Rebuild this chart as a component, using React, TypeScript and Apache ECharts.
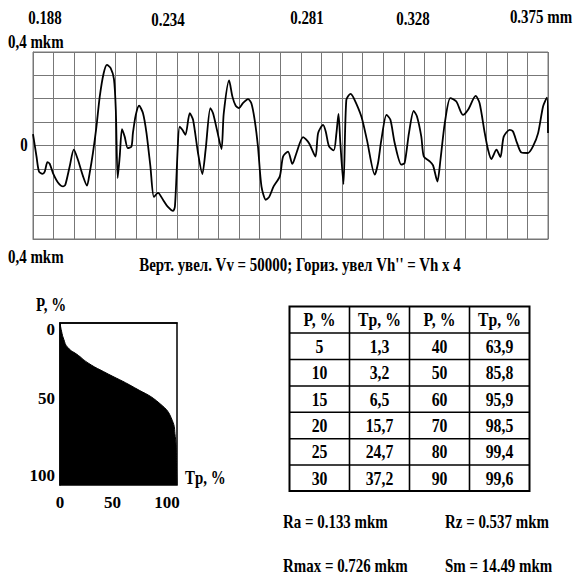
import React, { useEffect, useRef } from "react";
import * as echarts from "echarts";

// ---- Profile (surface roughness trace) ----
const profileDist = [
  0, 0.17, 0.29, 0.46, 0.57, 0.70, 0.81, 0.97, 1.21, 1.46,
  1.57, 1.78, 1.98, 2.18, 2.43, 2.62, 2.75, 2.91, 3.08, 3.24,
  3.43, 3.59, 3.77, 3.93, 4.02, 4.11, 4.21, 4.32, 4.45, 4.60,
  4.78, 4.85, 4.99, 5.15, 5.34, 5.51, 5.70, 5.87, 6.07, 6.31,
  6.55, 6.80, 6.89, 7.12, 7.25, 7.40, 7.61, 7.77, 8.01, 8.22,
  8.38, 8.61, 8.74, 8.93, 9.15, 9.26, 9.52, 9.68, 9.84, 10.00,
  10.19, 10.44, 10.60, 10.76, 10.92, 11.09, 11.30, 11.46, 11.68, 11.98,
  12.14, 12.38, 12.59, 12.79, 13.11, 13.40, 13.71, 13.84, 14.08, 14.21,
  14.37, 14.60, 14.73, 14.83, 14.92, 15.07, 15.21, 15.41, 15.57, 15.94,
  16.21, 16.59, 16.75, 16.91, 17.16, 17.35, 17.56, 17.88, 18.04, 18.25,
  18.48, 18.64, 18.85, 18.97, 19.26, 19.42, 19.63, 19.78, 19.99, 20.26,
  20.55, 20.87, 21.12, 21.49, 21.68, 21.93, 22.09, 22.25, 22.50, 22.69,
  22.85, 23.14, 23.30, 23.50, 23.71, 24.03, 24.27, 24.52, 24.76, 24.95,
  25.00,
];
const profileHeight = [
  0.049, -0.047, -0.111, -0.121, -0.112, -0.071, -0.078, -0.118, -0.158, -0.175,
  -0.168, -0.090, -0.018, -0.061, -0.132, -0.172, -0.118, -0.032, 0.081, 0.209,
  0.309, 0.345, 0.331, 0.284, 0.153, -0.139, -0.047, 0.070, 0.038, -0.011,
  -0.004, 0.053, 0.131, 0.170, 0.138, 0.053, -0.090, -0.220, -0.203, -0.232,
  -0.263, -0.280, -0.260, 0.081, 0.067, 0.046, 0.138, 0.110, -0.032, -0.122,
  -0.018, 0.160, 0.138, 0.067, -0.015, 0.138, 0.278, 0.209, 0.170, 0.160,
  0.181, 0.198, 0.181, 0.110, -0.004, -0.175, -0.232, -0.221, -0.175, -0.132,
  -0.047, -0.026, -0.079, -0.032, 0.036, 0.010, -0.047, 0.053, 0.088, 0.060,
  -0.004, -0.021, 0.053, 0.135, 0.010, -0.165, 0.195, 0.221, 0.203, 0.124,
  0.024, -0.125, -0.075, 0.024, 0.131, 0.110, 0.010, -0.082, -0.075, 0.053,
  0.148, 0.124, 0.038, -0.047, -0.068, -0.085, -0.154, -0.061, 0.096, 0.203,
  0.188, 0.131, 0.153, 0.212, 0.181, 0.053, -0.018, -0.058, -0.018, -0.050,
  0.038, 0.067, 0.060, 0.010, -0.030, -0.032, -0.004, 0.053, 0.167, 0.205,
  0.053,
];
const distTickLabels = ["0.188", "0.234", "0.281", "0.328", "0.375 mm"];

// ---- Bearing ratio table ----
const levelLow = [5, 10, 15, 20, 25, 30];
const bearingLow = [1.3, 3.2, 6.5, 15.7, 24.7, 37.2];
const levelHigh = [40, 50, 60, 70, 80, 90];
const bearingHigh = [63.9, 85.8, 95.9, 98.5, 99.4, 99.6];
const curveStart = [0, 0];
const curveEnd = [100, 100];

// ---- Parameters ----
const params = [
  "Ra = 0.133 mkm",
  "Rz = 0.537 mkm",
  "Rmax = 0.726 mkm",
  "Sm = 14.49 mkm",
];

const FONT_FAMILY = '"Liberation Serif", "Times New Roman", serif';
const SX = 0.83;

function txt(text: string, x: number, y: number, align = "center", size = 18) {
  return {
    type: "text",
    x,
    y,
    scaleX: SX,
    silent: true,
    style: {
      text,
      fill: "#000",
      font: `bold ${size}px ${FONT_FAMILY}`,
      textAlign: align,
      textVerticalAlign: "middle",
    },
  };
}

export default function App() {
  const ref = useRef<HTMLDivElement>(null);

  useEffect(() => {
    if (!ref.current) return;
    const chart = echarts.init(ref.current, null, { renderer: "svg" });

    const profileData = profileDist.map((d, i) => [d, profileHeight[i]]);
    const curveData = [
      curveStart,
      ...levelLow.map((p, i) => [bearingLow[i], p]),
      ...levelHigh.map((p, i) => [bearingHigh[i], p]),
      curveEnd,
    ];

    const fmt = (v: number) => String(v).replace(".", ",");

    // table
    const colX = [289.5, 349.5, 409.5, 469.5, 529.5];
    const rowY = [306.5, 333, 359.5, 386, 412.3, 438.7, 465, 491];
    const tableEls: any[] = [];
    for (let r = 1; r < rowY.length - 1; r++) {
      tableEls.push({
        type: "line",
        shape: { x1: colX[0], y1: rowY[r], x2: colX[4], y2: rowY[r] },
        style: { stroke: "#000", lineWidth: 1.6 },
      });
    }
    for (let c = 1; c < colX.length - 1; c++) {
      tableEls.push({
        type: "line",
        shape: { x1: colX[c], y1: rowY[0], x2: colX[c], y2: rowY[7] },
        style: { stroke: "#000", lineWidth: 1.6 },
      });
    }
    tableEls.push({
      type: "rect",
      shape: { x: colX[0], y: rowY[0], width: colX[4] - colX[0], height: rowY[7] - rowY[0] },
      style: { fill: "none", stroke: "#000", lineWidth: 2 },
    });
    const headers = ["P, %", "Tp, %", "P, %", "Tp, %"];
    headers.forEach((h, c) => {
      tableEls.push(txt(h, (colX[c] + colX[c + 1]) / 2, (rowY[0] + rowY[1]) / 2, "center", 19));
    });
    for (let r = 0; r < 6; r++) {
      const cy = (rowY[r + 1] + rowY[r + 2]) / 2;
      const vals = [String(levelLow[r]), fmt(bearingLow[r]), String(levelHigh[r]), fmt(bearingHigh[r])];
      vals.forEach((v, c) => {
        tableEls.push(txt(v, (colX[c] + colX[c + 1]) / 2, cy, "center", 19));
      });
    }

    const tickX = [45, 168, 307, 413, 541];
    const tickY = [18, 20, 18, 19, 17];

    const labelRich = (extra: any) => ({
      fontFamily: FONT_FAMILY,
      fontWeight: "bold",
      fontSize: 17,
      color: "#000",
      ...extra,
    });

    const option: any = {
      animation: false,
      grid: [
        { left: 33, top: 52, width: 515, height: 187, show: false },
        { left: 60, top: 323, width: 117, height: 162, show: true, borderColor: "#000", borderWidth: 1.5, backgroundColor: "transparent" },
      ],
      xAxis: [
        {
          gridIndex: 0,
          type: "value",
          min: 0,
          max: 25,
          interval: 1,
          axisLabel: { show: false },
          axisTick: { show: false },
          axisLine: { show: true, onZero: false, lineStyle: { color: "#777", width: 1 } },
          splitLine: { show: true, lineStyle: { color: "#777", width: 1 } },
        },
        {
          gridIndex: 1,
          type: "value",
          min: 0,
          max: 100,
          interval: 50,
          axisTick: { show: false },
          splitLine: { show: false },
          axisLine: { show: true, lineStyle: { color: "#000", width: 1.5 } },
          axisLabel: {
            margin: 9,
            formatter: (v: number) => (v === 0 ? `{a|${v}}` : v === 50 ? `{b|${v}}` : `{c|${v}}`),
            rich: {
              a: labelRich({}),
              b: labelRich({ padding: [0, 12, 0, 0] }),
              c: labelRich({ padding: [0, 20, 0, 0] }),
            },
          },
        },
      ],
      yAxis: [
        {
          gridIndex: 0,
          type: "value",
          min: -0.4,
          max: 0.4,
          interval: 0.1,
          axisLabel: { show: false },
          axisTick: { show: false },
          axisLine: { show: true, onZero: false, lineStyle: { color: "#777", width: 1 } },
          splitLine: { show: true, lineStyle: { color: "#777", width: 1 } },
        },
        {
          gridIndex: 1,
          type: "value",
          inverse: true,
          min: 0,
          max: 100,
          interval: 50,
          axisTick: { show: false },
          splitLine: { show: false },
          axisLine: { show: true, lineStyle: { color: "#000", width: 1.5 } },
          axisLabel: {
            margin: 5,
            formatter: (v: number) => (v === 0 ? `{a|${v}}` : v === 50 ? `{b|${v}}` : `{c|${v}}`),
            rich: {
              a: labelRich({ padding: [12, 0, 0, 0] }),
              b: labelRich({ padding: [0, 0, 12, 0] }),
              c: labelRich({ padding: [0, 0, 20, 0] }),
            },
          },
        },
      ],
      series: [
        {
          type: "line",
          xAxisIndex: 0,
          yAxisIndex: 0,
          data: profileData,
          showSymbol: false,
          smooth: 0.25,
          lineStyle: { color: "#000", width: 1.8 },
        },
        {
          type: "line",
          xAxisIndex: 1,
          yAxisIndex: 1,
          data: curveData,
          showSymbol: false,
          smooth: 0.5,
          lineStyle: { color: "#000", width: 1 },
          areaStyle: { color: "#000", opacity: 1, origin: "end" },
        },
      ],
      graphic: [
        {
          type: "rect",
          shape: { x: 33, y: 52, width: 515, height: 187 },
          style: { fill: "none", stroke: "#777", lineWidth: 1 },
          silent: true,
        },
        ...distTickLabels.map((t, i) => txt(t, tickX[i], tickY[i], "center", 18)),
        txt("0,4 mkm", 8, 42, "left", 18),
        txt("0", 24, 145, "center", 18),
        txt("0,4 mkm", 8, 257, "left", 18),
        txt("Верт. увел. Vv = 50000; Гориз. увел Vh'' = Vh x 4", 300, 265, "center", 18),
        txt("P, %", 36, 305, "left", 18),
        txt("Tp, %", 185, 478, "left", 18),
        ...tableEls,
        txt(params[0], 283, 522, "left", 18),
        txt(params[1], 445, 522, "left", 18),
        txt(params[2], 283, 566, "left", 18),
        txt(params[3], 445, 566, "left", 18),
      ],
    };

    chart.setOption(option);
    return () => chart.dispose();
  }, []);

  return (
    <div
      ref={ref}
      style={{ position: "fixed", left: 0, top: 0, width: 573, height: 577, background: "#fff" }}
    />
  );
}
